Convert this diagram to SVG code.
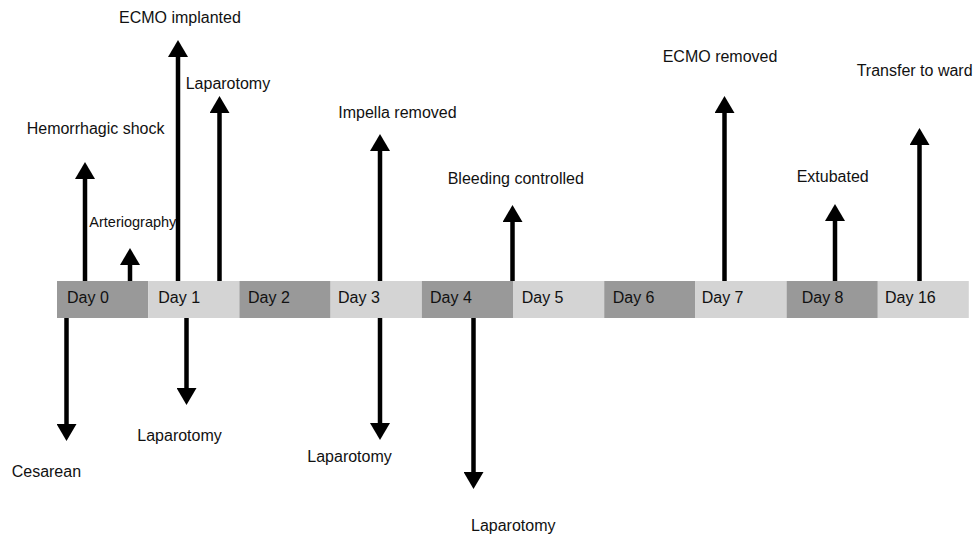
<svg xmlns="http://www.w3.org/2000/svg" width="973" height="534" viewBox="0 0 973 534">
<style>
text{font-family:"Liberation Sans",Arial,sans-serif;font-size:16px;fill:#111}
.dark{fill:#999999}
.light{fill:#d4d4d4}
.arr{stroke:#000;stroke-width:4.5;fill:none;marker-end:url(#ah)}
.small{font-size:14.5px}
</style>
<defs>
<marker id="ah" viewBox="0 0 17 20" refX="0" refY="10" markerWidth="17" markerHeight="20" markerUnits="userSpaceOnUse" orient="auto">
<path d="M0,0 L17,10 L0,20 z" fill="#000"/>
</marker>
</defs>
<rect width="973" height="534" fill="#fff"/>
<g id="timeline">
<g id="day0"><rect class="dark" x="57" y="281" width="91.2" height="37"/><text x="67" y="303">Day 0</text></g>
<g id="day1"><rect class="light" x="148.2" y="281" width="91.2" height="37"/><text x="158.3" y="303">Day 1</text></g>
<g id="day2"><rect class="dark" x="239.4" y="281" width="91.2" height="37"/><text x="248" y="303">Day 2</text></g>
<g id="day3"><rect class="light" x="330.6" y="281" width="91.2" height="37"/><text x="338" y="303">Day 3</text></g>
<g id="day4"><rect class="dark" x="421.8" y="281" width="91.2" height="37"/><text x="430" y="303">Day 4</text></g>
<g id="day5"><rect class="light" x="513" y="281" width="91.2" height="37"/><text x="521.7" y="303">Day 5</text></g>
<g id="day6"><rect class="dark" x="604.2" y="281" width="91.2" height="37"/><text x="612.7" y="303">Day 6</text></g>
<g id="day7"><rect class="light" x="695.4" y="281" width="91.2" height="37"/><text x="701.7" y="303">Day 7</text></g>
<g id="day8"><rect class="dark" x="786.6" y="281" width="91.2" height="37"/><text x="801.7" y="303">Day 8</text></g>
<g id="day16"><rect class="light" x="877.8" y="281" width="91" height="37"/><text x="885" y="303">Day 16</text></g>
</g>
<g id="connectors">
<line class="arr" x1="85" y1="281" x2="85" y2="179"/>
<line class="arr" x1="130" y1="281" x2="130" y2="265"/>
<line class="arr" x1="178" y1="281" x2="178" y2="57"/>
<line class="arr" x1="219.5" y1="281" x2="219.5" y2="113"/>
<line class="arr" x1="380" y1="281" x2="380" y2="151"/>
<line class="arr" x1="512.5" y1="281" x2="512.5" y2="222"/>
<line class="arr" x1="724.5" y1="281" x2="724.5" y2="113"/>
<line class="arr" x1="835" y1="281" x2="835" y2="221"/>
<line class="arr" x1="919.5" y1="281" x2="919.5" y2="145"/>
<line class="arr" x1="66.5" y1="318" x2="66.5" y2="424"/>
<line class="arr" x1="186.5" y1="318" x2="186.5" y2="388"/>
<line class="arr" x1="380" y1="318" x2="380" y2="423"/>
<line class="arr" x1="473.5" y1="318" x2="473.5" y2="472"/>
</g>
<g id="labels">
<g id="hemorrhagic-shock"><text x="26.7" y="134">Hemorrhagic shock</text></g>
<g id="arteriography"><text class="small" x="89.3" y="226.7">Arteriography</text></g>
<g id="ecmo-implanted"><text x="119" y="22.7">ECMO implanted</text></g>
<g id="laparotomy-up"><text x="185.7" y="89.3">Laparotomy</text></g>
<g id="impella-removed"><text x="338.3" y="117.7">Impella removed</text></g>
<g id="bleeding-controlled"><text x="447.7" y="184">Bleeding controlled</text></g>
<g id="ecmo-removed"><text x="662.7" y="61.7">ECMO removed</text></g>
<g id="extubated"><text x="796.7" y="181.7">Extubated</text></g>
<g id="transfer-to-ward"><text x="856.7" y="75.7">Transfer to ward</text></g>
<g id="cesarean"><text x="11.7" y="476.7">Cesarean</text></g>
<g id="laparotomy-day1"><text x="137.3" y="441">Laparotomy</text></g>
<g id="laparotomy-day3"><text x="307.3" y="461.7">Laparotomy</text></g>
<g id="laparotomy-day4"><text x="471" y="530.7">Laparotomy</text></g>
</g>
</svg>
